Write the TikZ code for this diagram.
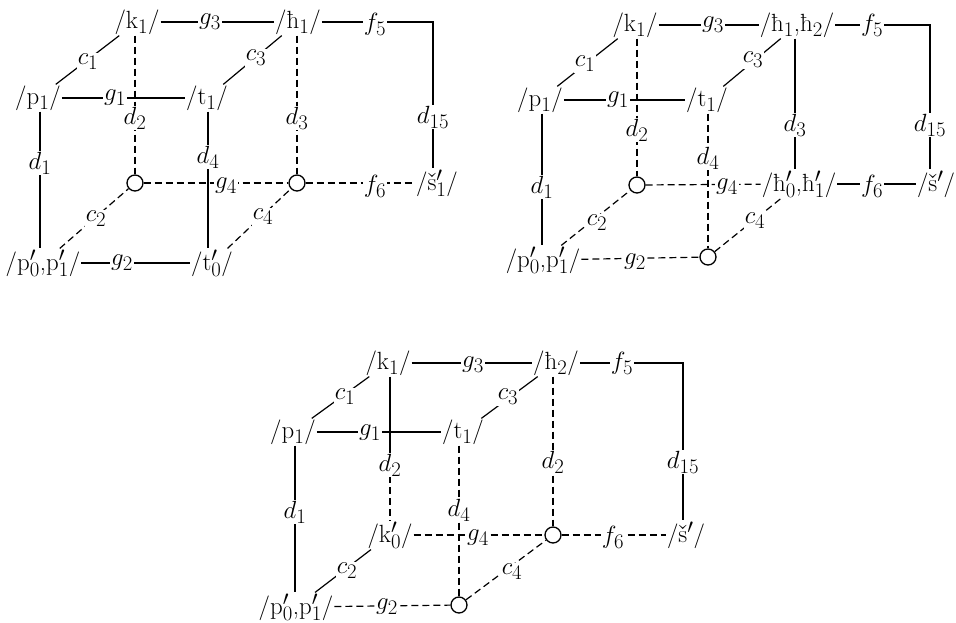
\documentclass[tikz,border=0pt]{standalone}
\usepackage{fontspec}
\setmainfont{Latin Modern Roman}
\begin{document}
\begin{tikzpicture}[x=1pt,y=-1pt,
  ln/.style={line width=1.2pt},
  dsh/.style={line width=1.2pt, dash pattern=on 7pt off 4pt},
  txt/.style={inner sep=1pt, font=\Huge},
  lab/.style={fill=white, inner sep=1.2pt, font=\Huge},
  circ/.style={circle, draw, line width=1.3pt, minimum size=16pt, inner sep=0pt, fill=white}]
\useasboundingbox (0,0) rectangle (956,623);

% ---------- diagram 1 ----------
\node[txt] (ak) at (137,22) {/k$_1$/};
\node[txt] (ah) at (298,22) {/ħ$_1$/};
\coordinate (acor) at (433,22);
\node[txt] (as) at (437,183) {/\v{s}$'_1$/};
\node[txt] (ap1) at (38,98) {/p$_1$/};
\node[txt] (at1) at (207,98) {/t$_1$/};
\node[circ] (ao1) at (135,183) {};
\node[circ] (ao2) at (297,183) {};
\node[txt] (ap0) at (43,263) {/p$'_0$,p$'_1$/};
\node[txt] (at0) at (212,263) {/t$'_0$/};
\coordinate (ax1) at (40,0);
\coordinate (ax4) at (208,0);

\draw[ln] (ap1) -- (ak);
\draw[ln] (ak) -- (ah);
\draw[ln] (ah) -- (acor) -- (as.north -| acor);
\draw[ln] (ap1) -- (at1);
\draw[ln] (at1) -- (ah);
\draw[dsh] (ak.south -| ao1) -- (ao1);
\draw[dsh] (ah.south -| ao2) -- (ao2);
\draw[ln] (ap1.south -| ax1) -- (ap0.north -| ax1);
\draw[ln] (at1.south -| ax4) -- (at0.north -| ax4);
\draw[dsh] (ao1) -- (ao2);
\draw[dsh] (ao2) -- (as);
\draw[dsh] (ap0) -- (ao1);
\draw[dsh] (at0) -- (ao2);
\draw[ln] (ap0) -- (at0);

\node[lab] (ac1) at (88,62) {$c_1$};
\node[lab] (ag3) at (210,22) {$g_3$};
\node[lab] (af5) at (375,24) {$f_5$};
\node[lab] (ad15) at (433,117) {$d_{15}$};
\node[lab] (ag1) at (115,98) {$g_1$};
\node[lab] (ac3) at (256,58) {$c_3$};
\node[lab] (ad2) at (135,118) {$d_2$};
\node[lab] (ad3) at (297,118) {$d_3$};
\node[lab] (ad1) at (40,163) {$d_1$};
\node[lab] (ad4) at (208,157) {$d_4$};
\node[lab] (ag4) at (226,186) {$g_4$};
\node[lab] (af6) at (375,186) {$f_6$};
\node[lab] (ac2) at (96,219) {$c_2$};
\node[lab] (ac4) at (263,217) {$c_4$};
\node[lab] (ag2) at (122,263) {$g_2$};

% ---------- diagram 2 ----------
\node[txt] (bk) at (635,25) {/k$_1$/};
\node[txt] (bh) at (797,25) {/ħ$_1$,ħ$_2$/};
\coordinate (bcor) at (930,25);
\node[txt] (bs) at (936,184) {/\v{s}$'$/};
\node[txt] (bp1) at (540,100) {/p$_1$/};
\node[txt] (bt1) at (707,100) {/t$_1$/};
\node[circ] (bo1) at (637,185) {};
\node[txt] (bh0) at (799,184) {/ħ$'_0$,ħ$'_1$/};
\node[txt] (bp0) at (543,260) {/p$'_0$,p$'_1$/};
\node[circ] (bo3) at (708,257) {};
\coordinate (bx1) at (542,0);
\coordinate (bx3) at (795,0);

\draw[ln] (bp1) -- (bk);
\draw[ln] (bk) -- (bh);
\draw[ln] (bh) -- (bcor) -- (bs.north -| bcor);
\draw[ln] (bp1) -- (bt1);
\draw[ln] (bt1) -- (bh);
\draw[dsh] (bk.south -| bo1) -- (bo1);
\draw[ln] (bh.south -| bx3) -- (bh0.north -| bx3);
\draw[ln] (bp1.south -| bx1) -- (bp0.north -| bx1);
\draw[dsh] (bt1.south -| bo3) -- (bo3);
\draw[dsh] (bo1) -- (bh0);
\draw[ln] (bh0) -- (bs);
\draw[dsh] (bp0) -- (bo1);
\draw[dsh] (bo3) -- (bh0);
\draw[dsh] (bp0) -- (bo3);

\node[lab] (bc1) at (585,64) {$c_1$};
\node[lab] (bg3) at (713,25) {$g_3$};
\node[lab] (bf5) at (872,25) {$f_5$};
\node[lab] (bd15) at (930,125) {$d_{15}$};
\node[lab] (bg1) at (618,100) {$g_1$};
\node[lab] (bc3) at (753,60) {$c_3$};
\node[lab] (bd2) at (637,130) {$d_2$};
\node[lab] (bd3) at (795,125) {$d_3$};
\node[lab] (bd1) at (542,187) {$d_1$};
\node[lab] (bd4) at (708,158) {$d_4$};
\node[lab] (bg4) at (727,187) {$g_4$};
\node[lab] (bf6) at (872,186) {$f_6$};
\node[lab] (bc2) at (597,223) {$c_2$};
\node[lab] (bc4) at (755,221) {$c_4$};
\node[lab] (bg2) at (635,262) {$g_2$};

% ---------- diagram 3 ----------
\node[txt] (ck) at (388,363) {/k$_1$/};
\node[txt] (ch) at (556,363) {/ħ$_2$/};
\coordinate (ccor) at (683,363);
\node[txt] (cs) at (686,535) {/\v{s}$'$/};
\node[txt] (cp1) at (293,432) {/p$_1$/};
\node[txt] (ct1) at (463,432) {/t$_1$/};
\node[txt] (ck0) at (390,535) {/k$'_0$/};
\node[circ] (cob) at (553,535) {};
\node[txt] (cp0) at (296,607) {/p$'_0$,p$'_1$/};
\node[circ] (cof) at (459,605) {};
\coordinate (cx1) at (295,0);
\coordinate (cm) at (390,465);

\draw[ln] (cp1) -- (ck);
\draw[ln] (ck) -- (ch);
\draw[ln] (ch) -- (ccor) -- (cs.north -| ccor);
\draw[ln] (cp1) -- (ct1);
\draw[ln] (ct1) -- (ch);
\draw[ln] (ck.south -| cm) -- (cm);
\draw[dsh] (cm) -- (ck0.north -| cm);
\draw[dsh] (ch.south -| cob) -- (cob);
\draw[ln] (cp1.south -| cx1) -- (cp0.north -| cx1);
\draw[dsh] (ct1.south -| cof) -- (cof);
\draw[dsh] (ck0) -- (cob);
\draw[dsh] (cob) -- (cs);
\draw[ln] (cp0) -- (ck0);
\draw[dsh] (cof) -- (cob);
\draw[dsh] (cp0) -- (cof);

\node[lab] (cc1) at (345,397) {$c_1$};
\node[lab] (cg3) at (473,365) {$g_3$};
\node[lab] (cf5) at (622,363) {$f_5$};
\node[lab] (cd15) at (683,462) {$d_{15}$};
\node[lab] (cg1) at (370,433) {$g_1$};
\node[lab] (cc3) at (508,397) {$c_3$};
\node[lab] (cd2a) at (390,465) {$d_2$};
\node[lab] (cd2b) at (553,462) {$d_2$};
\node[lab] (cd1) at (295,512) {$d_1$};
\node[lab] (cd4) at (459,510) {$d_4$};
\node[lab] (cg4) at (478,538) {$g_4$};
\node[lab] (cf6) at (613,537) {$f_6$};
\node[lab] (cc2) at (347,571) {$c_2$};
\node[lab] (cc4) at (512,572) {$c_4$};
\node[lab] (cg2) at (387,607) {$g_2$};
\end{tikzpicture}
\end{document}
